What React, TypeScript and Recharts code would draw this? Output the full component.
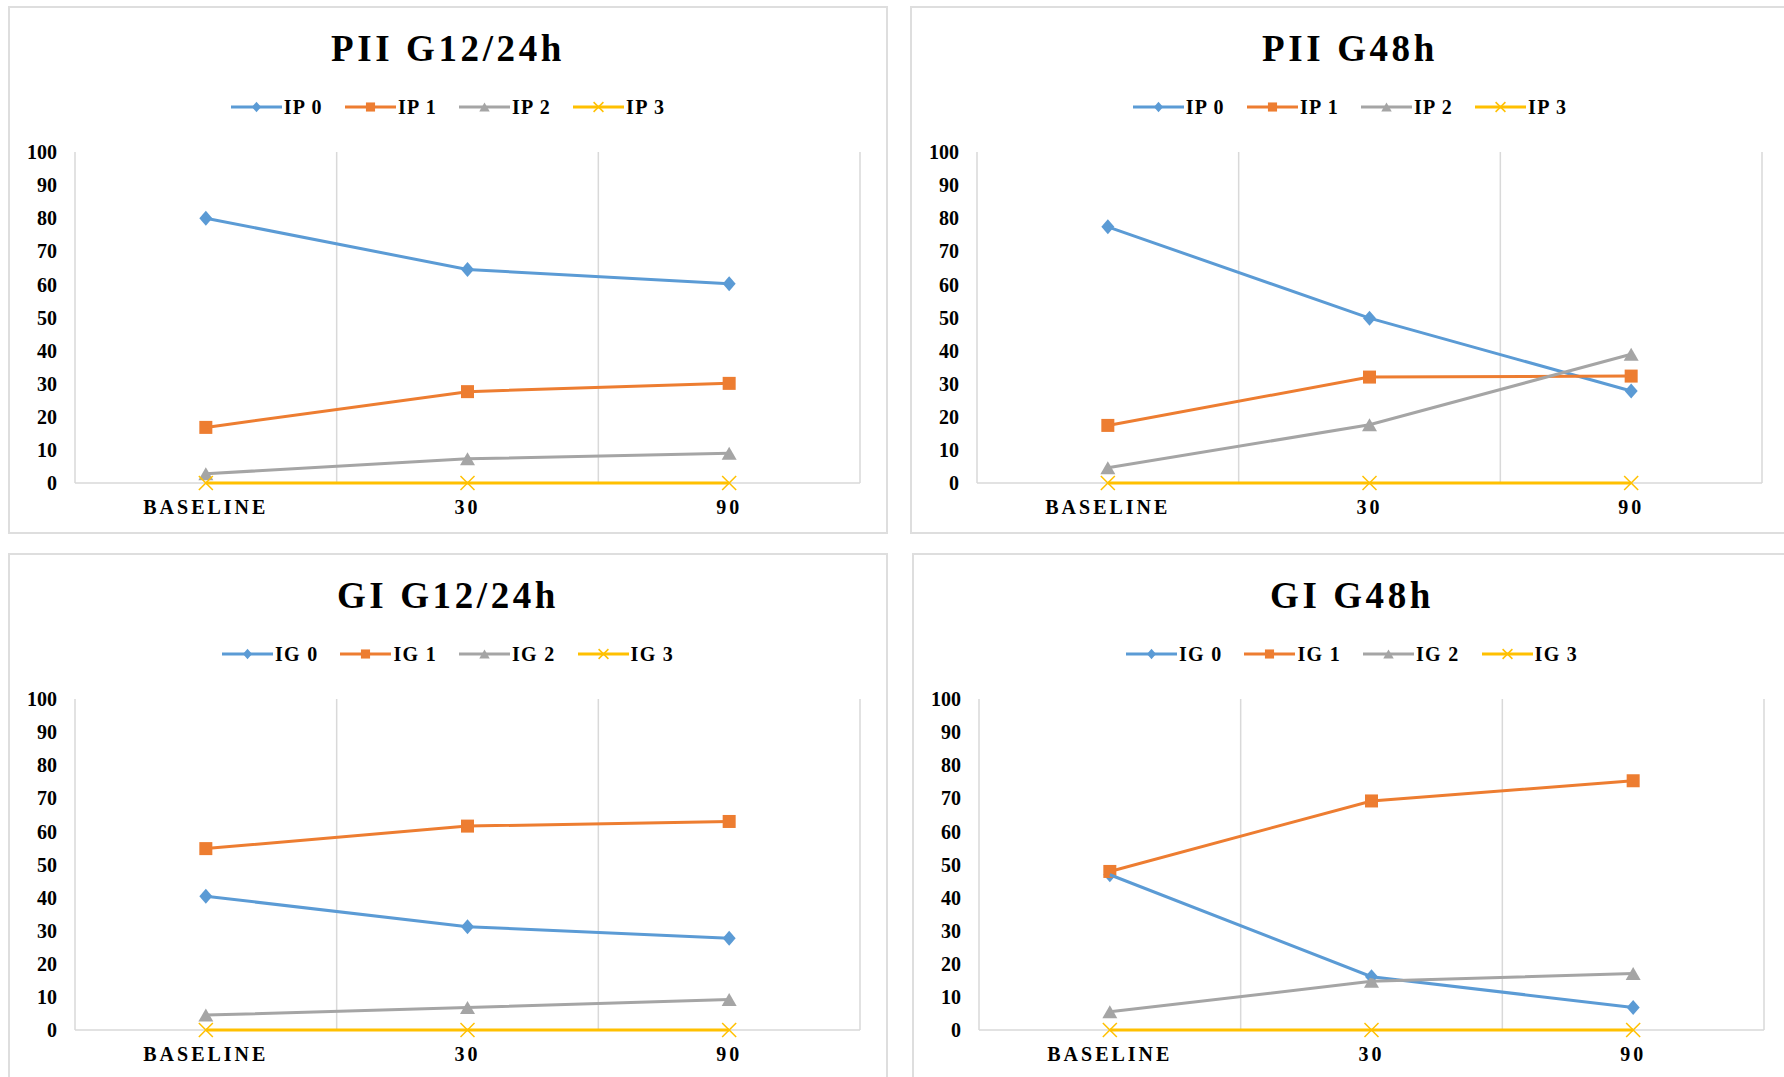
import React from "react";
import { Legend, Line, LineChart, ReferenceLine, XAxis, YAxis } from "recharts";

// x categories and y ticks shared by all four panels
const categories = ["BASELINE", "30", "90"];
const yTicks = [0, 10, 20, 30, 40, 50, 60, 70, 80, 90, 100];

const ipNames = ["IP 0", "IP 1", "IP 2", "IP 3"];
const igNames = ["IG 0", "IG 1", "IG 2", "IG 3"];

// PII G12/24h
const piiG1224Ip0 = [80, 64.5, 60.2];
const piiG1224Ip1 = [16.8, 27.6, 30.1];
const piiG1224Ip2 = [2.8, 7.3, 9];
const piiG1224Ip3 = [0, 0, 0];

// PII G48h
const piiG48Ip0 = [77.4, 49.8, 27.8];
const piiG48Ip1 = [17.4, 32, 32.3];
const piiG48Ip2 = [4.6, 17.6, 38.9];
const piiG48Ip3 = [0, 0, 0];

// GI G12/24h
const giG1224Ig0 = [40.4, 31.2, 27.7];
const giG1224Ig1 = [54.8, 61.6, 63];
const giG1224Ig2 = [4.5, 6.8, 9.2];
const giG1224Ig3 = [0, 0, 0];

// GI G48h
const giG48Ig0 = [46.9, 16.1, 6.8];
const giG48Ig1 = [47.9, 69.2, 75.3];
const giG48Ig2 = [5.5, 14.7, 17.1];
const giG48Ig3 = [0, 0, 0];

const seriesColors = ["#5B9BD5", "#ED7D31", "#A5A5A5", "#FFC000"];
const seriesShapes = ["diamond", "square", "triangle", "cross"] as const;
type ShapeKind = (typeof seriesShapes)[number];

const SERIF = '"Liberation Serif", "Times New Roman", serif';
const GRID = "#d9d9d9";
const PANEL_W = 880;
const PANEL_H = 528;

function Marker({
  kind,
  cx,
  cy,
  color,
  scale = 1,
}: {
  kind: ShapeKind;
  cx?: number;
  cy?: number;
  color: string;
  scale?: number;
}) {
  if (cx == null || cy == null || Number.isNaN(cx) || Number.isNaN(cy)) return null;
  if (kind === "diamond") {
    const w = 6.5 * scale;
    const h = 7.5 * scale;
    return (
      <polygon
        points={`${cx},${cy - h} ${cx + w},${cy} ${cx},${cy + h} ${cx - w},${cy}`}
        fill={color}
      />
    );
  }
  if (kind === "square") {
    const s = 6.5 * scale;
    return <rect x={cx - s} y={cy - s} width={2 * s} height={2 * s} fill={color} />;
  }
  if (kind === "triangle") {
    const w = 7.5 * scale;
    const h = 6.5 * scale;
    return (
      <polygon
        points={`${cx},${cy - h} ${cx + w},${cy + h} ${cx - w},${cy + h}`}
        fill={color}
      />
    );
  }
  const s = 7 * scale;
  return (
    <g stroke={color} strokeWidth={1.5}>
      <line x1={cx - s} y1={cy - s} x2={cx + s} y2={cy + s} />
      <line x1={cx - s} y1={cy + s} x2={cx + s} y2={cy - s} />
    </g>
  );
}

function LegendRow(props: { payload?: ReadonlyArray<{ value?: unknown; color?: string; dataKey?: unknown }> }) {
  const items = props.payload ?? [];
  return (
    <div style={{ display: "flex", justifyContent: "center", alignItems: "center", gap: 22 }}>
      {items.map((entry, i) => {
        const idx = Number(String(entry.dataKey ?? `s${i}`).slice(1));
        const color = seriesColors[idx] ?? entry.color ?? "#000";
        return (
          <div key={i} style={{ display: "flex", alignItems: "center" }}>
            <svg width={51} height={20}>
              <line x1={0} y1={10} x2={51} y2={10} stroke={color} strokeWidth={3} />
              <Marker kind={seriesShapes[idx]} cx={25.5} cy={10} color={color} scale={0.7} />
            </svg>
            <span
              style={{
                marginLeft: 2,
                fontFamily: SERIF,
                fontWeight: 700,
                fontSize: 20,
                letterSpacing: 1.3,
                color: "#000",
                lineHeight: "20px",
              }}
            >
              {String(entry.value ?? "")}
            </span>
          </div>
        );
      })}
    </div>
  );
}

function Panel({
  title,
  names,
  series,
  left,
  top,
}: {
  title: string;
  names: string[];
  series: number[][];
  left: number;
  top: number;
}) {
  const rows = categories.map((c, i) => ({
    x: i,
    label: c,
    s0: series[0][i],
    s1: series[1][i],
    s2: series[2][i],
    s3: series[3][i],
  }));

  return (
    <div style={{ position: "absolute", left, top, width: PANEL_W, height: PANEL_H }}>
      <div
        style={{
          position: "absolute",
          inset: 0,
          border: "2px solid #dedede",
          boxSizing: "border-box",
        }}
      />
      <div
        style={{
          position: "absolute",
          left: 0,
          top: 24,
          width: PANEL_W,
          textAlign: "center",
          fontFamily: SERIF,
          fontWeight: 700,
          fontSize: 37,
          lineHeight: "37px",
          letterSpacing: 3.6,
          color: "#000",
        }}
      >
        {title}
      </div>
      <div style={{ position: "absolute", left: 0, top: 0 }}>
        <LineChart
          width={PANEL_W}
          height={PANEL_H}
          data={rows}
          margin={{ top: 146, right: 28, bottom: 21, left: 0 }}
        >
          <XAxis
            dataKey="x"
            type="number"
            domain={[-0.5, 2.5]}
            ticks={[0, 1, 2]}
            interval={0}
            tickFormatter={(v) => categories[Number(v)] ?? ""}
            axisLine={{ stroke: GRID, strokeWidth: 1.5 }}
            tickLine={false}
            tickSize={6}
            tickMargin={11}
            height={30}
            zIndex={100}
            tick={{
              fill: "#000",
              fontFamily: SERIF,
              fontWeight: 700,
              fontSize: 20,
              letterSpacing: 3,
            }}
          />
          <YAxis
            type="number"
            domain={[0, 100]}
            ticks={yTicks}
            interval={0}
            width={67}
            axisLine={{ stroke: GRID, strokeWidth: 1.5 }}
            tickLine={false}
            tickSize={6}
            tickMargin={12}
            zIndex={100}
            tick={{ fill: "#000", fontFamily: SERIF, fontWeight: 700, fontSize: 20 }}
          />
          <ReferenceLine x={0.5} stroke={GRID} strokeWidth={1.5} zIndex={50} />
          <ReferenceLine x={1.5} stroke={GRID} strokeWidth={1.5} zIndex={50} />
          <ReferenceLine x={2.5} stroke={GRID} strokeWidth={1.5} zIndex={50} />
          <Legend
            layout="horizontal"
            verticalAlign="middle"
            align="center"
            wrapperStyle={{ top: 91, left: 0, width: PANEL_W }}
            content={(p) => <LegendRow payload={p.payload as any} />}
          />
          {names.map((name, i) => (
            <Line
              key={name}
              type="linear"
              dataKey={`s${i}`}
              name={name}
              stroke={seriesColors[i]}
              strokeWidth={3}
              zIndex={700}
              dot={(d: any) => (
                <Marker
                  key={`${name}-${d.index}`}
                  kind={seriesShapes[i]}
                  cx={d.cx}
                  cy={d.cy}
                  color={seriesColors[i]}
                />
              )}
              activeDot={false}
              isAnimationActive={false}
            />
          ))}
        </LineChart>
      </div>
    </div>
  );
}

export default function App() {
  return (
    <div
      style={{
        position: "absolute",
        left: 0,
        top: 0,
        width: 1784,
        height: 1077,
        overflow: "hidden",
        background: "#fff",
      }}
    >
      <Panel
        title="PII G12/24h"
        names={ipNames}
        series={[piiG1224Ip0, piiG1224Ip1, piiG1224Ip2, piiG1224Ip3]}
        left={8}
        top={6}
      />
      <Panel
        title="PII G48h"
        names={ipNames}
        series={[piiG48Ip0, piiG48Ip1, piiG48Ip2, piiG48Ip3]}
        left={910}
        top={6}
      />
      <Panel
        title="GI G12/24h"
        names={igNames}
        series={[giG1224Ig0, giG1224Ig1, giG1224Ig2, giG1224Ig3]}
        left={8}
        top={553}
      />
      <Panel
        title="GI G48h"
        names={igNames}
        series={[giG48Ig0, giG48Ig1, giG48Ig2, giG48Ig3]}
        left={912}
        top={553}
      />
    </div>
  );
}
